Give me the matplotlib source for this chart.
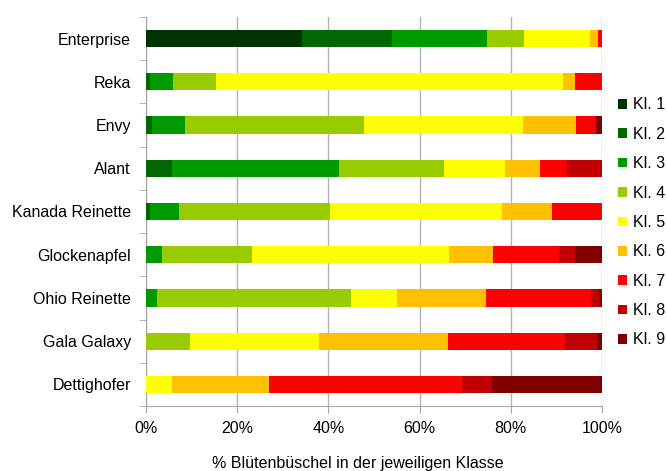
import numpy as np
import matplotlib
matplotlib.use("Agg")
import matplotlib.pyplot as plt

plt.rcParams['font.family'] = ['Liberation Sans', 'DejaVu Sans']

sorten = ["Enterprise", "Reka", "Envy", "Alant", "Kanada Reinette",
          "Glockenapfel", "Ohio Reinette", "Gala Galaxy", "Dettighofer"]
klassen = ["Kl. 1", "Kl. 2", "Kl. 3", "Kl. 4", "Kl. 5", "Kl. 6", "Kl. 7", "Kl. 8", "Kl. 9"]
farben = ["#003300", "#006600", "#009900", "#99CC00", "#FFFF00",
          "#FFC000", "#FF0000", "#C00000", "#800000"]

# % per class (rows = Kl. 1..9, columns = sorten)
kl1 = [34.2, 0.0, 0.0, 0.0, 0.0, 0.0, 0.0, 0.0, 0.0]
kl2 = [19.8, 0.9, 1.4, 5.7, 0.9, 0.0, 0.0, 0.0, 0.0]
kl3 = [20.8, 5.1, 7.2, 36.6, 6.4, 3.4, 2.5, 0.0, 0.0]
kl4 = [8.0, 9.4, 39.3, 23.1, 33.0, 19.9, 42.4, 9.6, 0.0]
kl5 = [14.6, 76.1, 34.7, 13.4, 37.7, 43.1, 10.1, 28.3, 5.7]
kl6 = [1.7, 2.5, 11.8, 7.7, 11.1, 9.6, 19.5, 28.4, 21.2]
kl7 = [0.9, 6.0, 4.2, 5.8, 10.9, 14.5, 23.1, 25.6, 42.4]
kl8 = [0.0, 0.0, 0.0, 7.7, 0.0, 3.5, 1.8, 7.1, 6.6]
kl9 = [0.0, 0.0, 1.4, 0.0, 0.0, 6.0, 0.6, 1.0, 24.1]
werte = [kl1, kl2, kl3, kl4, kl5, kl6, kl7, kl8, kl9]

fs = 11.5
fig = plt.figure(figsize=(6.67, 4.71), dpi=100)
ax = fig.add_axes([0.219, 0.138, 0.6835, 0.826])

y = np.arange(len(sorten))
links = np.zeros(len(sorten))
for name, vals, col in zip(klassen, werte, farben):
    vals = np.array(vals)
    ax.barh(y, vals, left=links, height=0.4, color=col, label=name, zorder=3)
    links += vals

ax.set_xlim(0, 100)
ax.set_ylim(len(sorten) - 0.5, -0.5)
ax.set_xticks(np.arange(0, 101, 20))
ax.set_xticklabels([f"{v}%" for v in range(0, 101, 20)], fontsize=fs)
ax.set_yticks(y)
ax.set_yticklabels(sorten, fontsize=fs)
ax.set_yticks(np.arange(-0.5, len(sorten), 1), minor=True)
ax.tick_params(axis='y', which='major', length=0, pad=11)
ax.tick_params(axis='y', which='minor', length=5, color='#A6A6A6')
ax.tick_params(axis='x', length=5, color='#A6A6A6', pad=6)
ax.grid(axis='x', color='#B3B3B3', lw=1, zorder=0)
for s in ['top', 'right']:
    ax.spines[s].set_visible(False)
for s in ['left', 'bottom']:
    ax.spines[s].set_color('#A6A6A6')
ax.set_xlabel("% Blütenbüschel in der jeweiligen Klasse", fontsize=fs, va='center')
ax.xaxis.set_label_coords(0.465, -57 / 389)

fig.legend(loc='upper left', bbox_to_anchor=(0.915, 0.81), frameon=False,
           fontsize=fs, handlelength=0.55, handleheight=0.55, handletextpad=0.35,
           labelspacing=0.9, borderpad=0)

fig.savefig("out.png", dpi=100)
